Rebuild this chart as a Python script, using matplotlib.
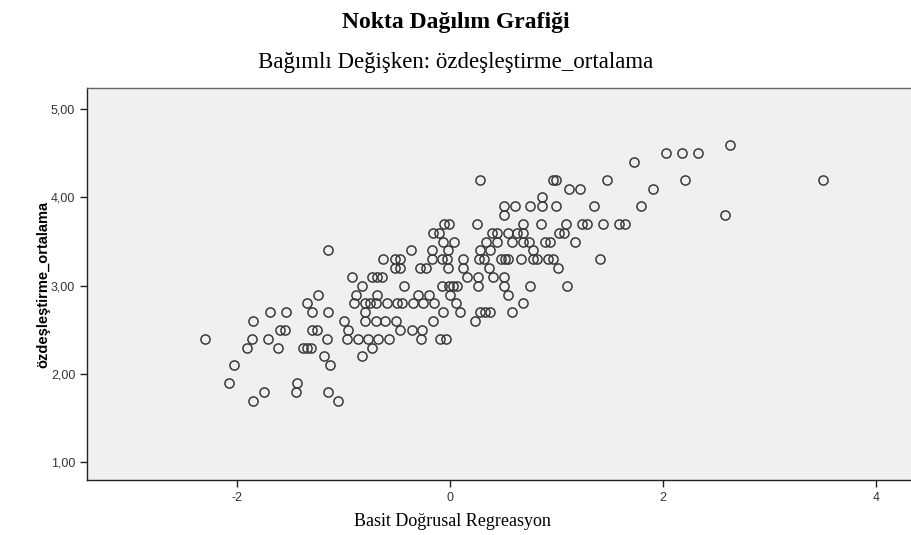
import matplotlib
matplotlib.use("Agg")
import matplotlib.pyplot as plt
from matplotlib.ticker import FuncFormatter

plt.rcParams["axes.unicode_minus"] = False

# points grouped by y value (the dependent variable comes in steps of 0.1)
y_rows = [1.7, 1.8, 1.9, 2.1, 2.2, 2.3, 2.4, 2.5, 2.6, 2.7, 2.8, 2.9, 3.0, 3.1,
          3.2, 3.3, 3.4, 3.5, 3.6, 3.7, 3.8, 3.9, 4.0, 4.1, 4.2, 4.4, 4.5, 4.6]
x_rows = [
    [-1.85, -1.05],
    [-1.75, -1.45, -1.15],
    [-2.08, -1.44],
    [-2.03, -1.13],
    [-1.18, -0.83],
    [-1.91, -1.62, -1.38, -1.34, -1.31, -0.73],
    [-2.30, -1.86, -1.71, -1.16, -0.97, -0.86, -0.77, -0.68, -0.57, -0.27, -0.09, -0.04],
    [-1.60, -1.55, -1.30, -1.25, -0.96, -0.47, -0.36, -0.26],
    [-1.85, -1.00, -0.80, -0.70, -0.61, -0.51, -0.16, 0.23],
    [-1.69, -1.54, -1.30, -1.15, -0.80, -0.07, 0.09, 0.28, 0.33, 0.38, 0.58],
    [-1.34, -0.90, -0.80, -0.75, -0.70, -0.59, -0.50, -0.45, -0.35, -0.25, -0.15, 0.06, 0.69],
    [-1.24, -0.88, -0.69, -0.30, -0.20, 0.00, 0.54],
    [-0.83, -0.43, -0.08, -0.01, 0.03, 0.07, 0.26, 0.51, 0.75, 1.10],
    [-0.92, -0.73, -0.69, -0.64, 0.16, 0.26, 0.40, 0.51],
    [-0.52, -0.47, -0.28, -0.23, -0.02, 0.12, 0.37, 1.01],
    [-0.63, -0.52, -0.47, -0.17, -0.08, -0.03, 0.12, 0.27, 0.32, 0.48, 0.52, 0.54,
     0.67, 0.78, 0.82, 0.92, 0.97, 1.41],
    [-1.15, -0.37, -0.17, -0.02, 0.28, 0.38, 0.78],
    [-0.07, 0.04, 0.34, 0.44, 0.58, 0.69, 0.74, 0.89, 0.94, 1.17],
    [-0.16, -0.10, 0.39, 0.44, 0.54, 0.63, 0.69, 1.02, 1.07],
    [-0.06, -0.01, 0.25, 0.69, 0.85, 1.09, 1.24, 1.29, 1.44, 1.59, 1.64],
    [0.51, 2.58],
    [0.51, 0.61, 0.75, 0.86, 1.00, 1.35, 1.79],
    [0.86],
    [1.12, 1.22, 1.91],
    [0.28, 0.97, 1.00, 1.47, 2.21, 3.50],
    [1.73],
    [2.03, 2.18, 2.33],
    [2.63],
]

x_ticks = [-2, 0, 2, 4]
y_ticks = [1, 2, 3, 4, 5]

xs, ys = [], []
for yv, row in zip(y_rows, x_rows):
    xs += row
    ys += [yv] * len(row)

fig = plt.figure(figsize=(9.11, 5.35), dpi=100)
ax = fig.add_axes([0.0955, 0.1028, 0.9045, 0.7327])
ax.set_facecolor("#f0f0f0")

ax.plot(xs, ys, "o", linestyle="none", markersize=6.6, markerfacecolor="none",
        markeredgecolor="#3a3a3a", markeredgewidth=1.1)

ax.set_xlim(-3.41, 4.33)
ax.set_ylim(0.80, 5.24)
ax.set_xticks(x_ticks)
ax.set_yticks(y_ticks)
ax.yaxis.set_major_formatter(FuncFormatter(lambda v, p: f"{v:.2f}".replace(".", ",")))

for s in ["left", "bottom"]:
    ax.spines[s].set_color("#222222")
    ax.spines[s].set_linewidth(1.0)
ax.spines["top"].set_color("#666666")
ax.spines["top"].set_linewidth(1.0)
ax.spines["right"].set_visible(False)
ax.tick_params(direction="out", length=5, width=1, color="#222222",
               labelsize=9, labelcolor="#333333")
for lab in ax.get_xticklabels() + ax.get_yticklabels():
    lab.set_family("Liberation Sans")

ax.set_xlabel("Basit Doğrusal Regreasyon", family="Liberation Serif", fontsize=13,
              labelpad=8)
ax.xaxis.set_label_coords(0.444, -0.085)
ax.set_ylabel("özdeşleştirme_ortalama", family=["Liberation Sans Narrow", "Liberation Sans"],
              fontweight="bold", fontsize=10.5, labelpad=0)

fig.text(0.5, 0.958, "Nokta Dağılım Grafiği", ha="center", va="center",
         family="Liberation Serif", fontweight="bold", fontsize=17)
fig.text(0.5, 0.884, "Bağımlı Değişken: özdeşleştirme_ortalama", ha="center", va="center",
         family="Liberation Serif", fontsize=16.5)

fig.savefig("out.png", dpi=100)
